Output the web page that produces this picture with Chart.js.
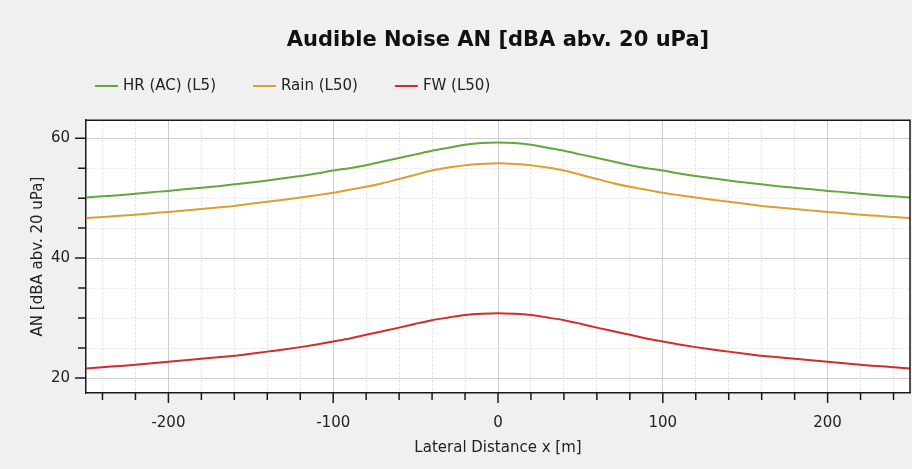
<!DOCTYPE html>
<html>
<head>
<meta charset="utf-8">
<script src="https://cdn.jsdelivr.net/npm/chart.js@4.4.1/dist/chart.umd.min.js"></script>
<style>
  html, body { margin: 0; padding: 0; background: #f0f0f0; }
  #wrap { width: 912px; height: 469px; }
</style>
</head>
<body>
<div id="wrap"><canvas id="chart"></canvas></div>
<script>
// lateral distance [m]
const distances = [-250, -240, -230, -220, -210, -200, -190, -180, -170, -160, -150, -140, -130, -120, -110, -100, -90, -80, -70, -60, -50, -40, -30, -20, -10,
  0, 10, 20, 30, 40, 50, 60, 70, 80, 90, 100, 110, 120, 130, 140, 150, 160, 170, 180, 190, 200, 210, 220, 230, 240, 250];

const hrAC = [50.1, 50.3, 50.5, 50.75, 51.0, 51.2, 51.5, 51.75, 52.0, 52.3, 52.6, 52.95, 53.3, 53.7, 54.1, 54.6, 55.0, 55.5, 56.1, 56.7, 57.3, 57.9, 58.4, 58.9, 59.2,
  59.3, 59.2, 58.9, 58.4, 57.9, 57.3, 56.7, 56.1, 55.5, 55.0, 54.6, 54.1, 53.7, 53.3, 52.95, 52.6, 52.3, 52.0, 51.75, 51.5, 51.2, 51.0, 50.75, 50.5, 50.3, 50.1];

const rain = [46.7, 46.85, 47.05, 47.25, 47.5, 47.7, 47.95, 48.2, 48.45, 48.7, 49.05, 49.4, 49.75, 50.1, 50.5, 50.9, 51.4, 51.9, 52.5, 53.2, 53.9, 54.6, 55.1, 55.5, 55.7,
  55.8, 55.7, 55.5, 55.1, 54.6, 53.9, 53.2, 52.5, 51.9, 51.4, 50.9, 50.5, 50.1, 49.75, 49.4, 49.05, 48.7, 48.45, 48.2, 47.95, 47.7, 47.5, 47.25, 47.05, 46.85, 46.7];

const fairWeather = [21.6, 21.8, 22.0, 22.2, 22.45, 22.7, 22.95, 23.2, 23.45, 23.7, 24.05, 24.4, 24.75, 25.15, 25.6, 26.1, 26.6, 27.2, 27.8, 28.4, 29.05, 29.65, 30.1, 30.5, 30.7,
  30.8, 30.7, 30.5, 30.1, 29.65, 29.05, 28.4, 27.8, 27.2, 26.6, 26.1, 25.6, 25.15, 24.75, 24.4, 24.05, 23.7, 23.45, 23.2, 22.95, 22.7, 22.45, 22.2, 22.0, 21.8, 21.6];

const seriesNames = ['HR (AC) (L5)', 'Rain (L50)', 'FW (L50)'];
const xLabelTicks = [-200, -100, 0, 100, 200];
const yLabelTicks = [20, 40, 60];

const txtFont = '"DejaVu Sans", "Noto Sans", sans-serif';

function pts(vals) {
  return distances.map((d, i) => ({ x: d, y: vals[i] }));
}

// minor + major tick values between two bounds
function tickRange(from, to, step) {
  const out = [];
  for (let v = from; v <= to; v += step) out.push({ value: v });
  return out;
}

// background, frame, tick marks and the legend row
const decor = {
  id: 'decor',
  beforeDraw(chart) {
    const { ctx, chartArea: a } = chart;
    ctx.save();
    ctx.fillStyle = '#f0f0f0';
    ctx.fillRect(0, 0, chart.width, chart.height);
    ctx.fillStyle = '#ffffff';
    ctx.fillRect(a.left, a.top, a.right - a.left, a.bottom - a.top);
    ctx.restore();
  },
  afterDraw(chart) {
    const { ctx, chartArea: a } = chart;
    const xs = chart.scales.x, ys = chart.scales.y;
    ctx.save();
    ctx.strokeStyle = '#1a1a1a';
    ctx.lineWidth = 1.5;
    ctx.beginPath();
    ctx.moveTo(a.left, a.top); ctx.lineTo(a.right, a.top); ctx.lineTo(a.right, a.bottom);
    ctx.stroke();
    ctx.beginPath();
    xs.ticks.forEach(t => {
      const px = xs.getPixelForValue(t.value);
      const len = xLabelTicks.includes(t.value) ? 10 : 7;
      ctx.moveTo(px, a.bottom); ctx.lineTo(px, a.bottom + len);
    });
    ys.ticks.forEach(t => {
      const py = ys.getPixelForValue(t.value);
      const len = yLabelTicks.includes(t.value) ? 11 : 8;
      ctx.moveTo(a.left, py); ctx.lineTo(a.left - len, py);
    });
    ctx.stroke();
    // legend
    let x = 95; const y = 86;
    ctx.font = '15px ' + txtFont;
    ctx.textBaseline = 'middle';
    chart.data.datasets.forEach(ds => {
      ctx.strokeStyle = ds.borderColor;
      ctx.lineWidth = 2;
      ctx.beginPath(); ctx.moveTo(x, y); ctx.lineTo(x + 23, y); ctx.stroke();
      ctx.fillStyle = '#222';
      ctx.fillText(ds.label, x + 28, y);
      x += 28 + ctx.measureText(ds.label).width + 37;
    });
    ctx.restore();
  }
};

function isMajor(c) {
  return (c.scale.axis === 'x' ? xLabelTicks : yLabelTicks).includes(c.tick.value);
}
function gridColor(c) {
  if (!c.tick) return '#d0d0d0';
  return isMajor(c) ? '#cfcfcf' : '#e2e2e2';
}
function gridDash(c) {
  if (!c.tick) return [];
  return isMajor(c) ? [] : [2, 2];
}

new Chart(document.getElementById('chart'), {
  type: 'line',
  data: {
    datasets: [
      { label: seriesNames[0], data: pts(hrAC), borderColor: '#62a83a' },
      { label: seriesNames[1], data: pts(rain), borderColor: '#d9a230' },
      { label: seriesNames[2], data: pts(fairWeather), borderColor: '#d42b2b' }
    ]
  },
  options: {
    responsive: true,
    maintainAspectRatio: false,
    animation: false,
    layout: { padding: { left: 0, right: 2, top: 0, bottom: 0 } },
    elements: {
      line: { borderWidth: 2, cubicInterpolationMode: 'monotone', fill: false },
      point: { radius: 0 }
    },
    plugins: {
      legend: { display: false },
      tooltip: { enabled: false },
      title: {
        display: true,
        fullSize: false,
        text: 'Audible Noise AN [dBA abv. 20 uPa]',
        color: '#111',
        font: { family: '"DejaVu Sans", "Liberation Sans", sans-serif', size: 21, weight: 'bold', lineHeight: 1.2 },
        padding: { top: 28, bottom: 67 }
      }
    },
    scales: {
      x: {
        type: 'linear',
        min: -250,
        max: 250,
        afterBuildTicks(scale) { scale.ticks = tickRange(-240, 240, 20); },
        afterFit(scale) { scale.height = 76; },
        ticks: {
          autoSkip: false,
          maxRotation: 0,
          padding: 11,
          color: '#222',
          font: { family: txtFont, size: 15 },
          callback: v => xLabelTicks.includes(v) ? String(v) : ''
        },
        grid: { color: gridColor, lineWidth: 1, drawTicks: true, tickLength: 10, tickColor: 'rgba(0,0,0,0)' },
        border: { display: true, color: '#1a1a1a', width: 1.5, dash: gridDash },
        title: {
          display: true,
          text: 'Lateral Distance x [m]',
          color: '#222',
          font: { family: txtFont, size: 15, lineHeight: 1.2 },
          padding: { top: 0, bottom: 12 }
        }
      },
      y: {
        type: 'linear',
        min: 17.5,
        max: 63,
        afterBuildTicks(scale) { scale.ticks = tickRange(20, 60, 5); },
        afterFit(scale) { scale.width = 86; },
        ticks: {
          autoSkip: false,
          padding: 6,
          color: '#222',
          font: { family: txtFont, size: 15 },
          callback: v => yLabelTicks.includes(v) ? String(v) : ''
        },
        grid: { color: gridColor, lineWidth: 1, drawTicks: true, tickLength: 10, tickColor: 'rgba(0,0,0,0)' },
        border: { display: true, color: '#1a1a1a', width: 1.5, dash: gridDash },
        title: {
          display: true,
          text: 'AN [dBA abv. 20 uPa]',
          color: '#222',
          font: { family: txtFont, size: 15, lineHeight: 1.2 },
          padding: { top: 29, bottom: 0 }
        }
      }
    }
  },
  plugins: [decor]
});
</script>
</body>
</html>
